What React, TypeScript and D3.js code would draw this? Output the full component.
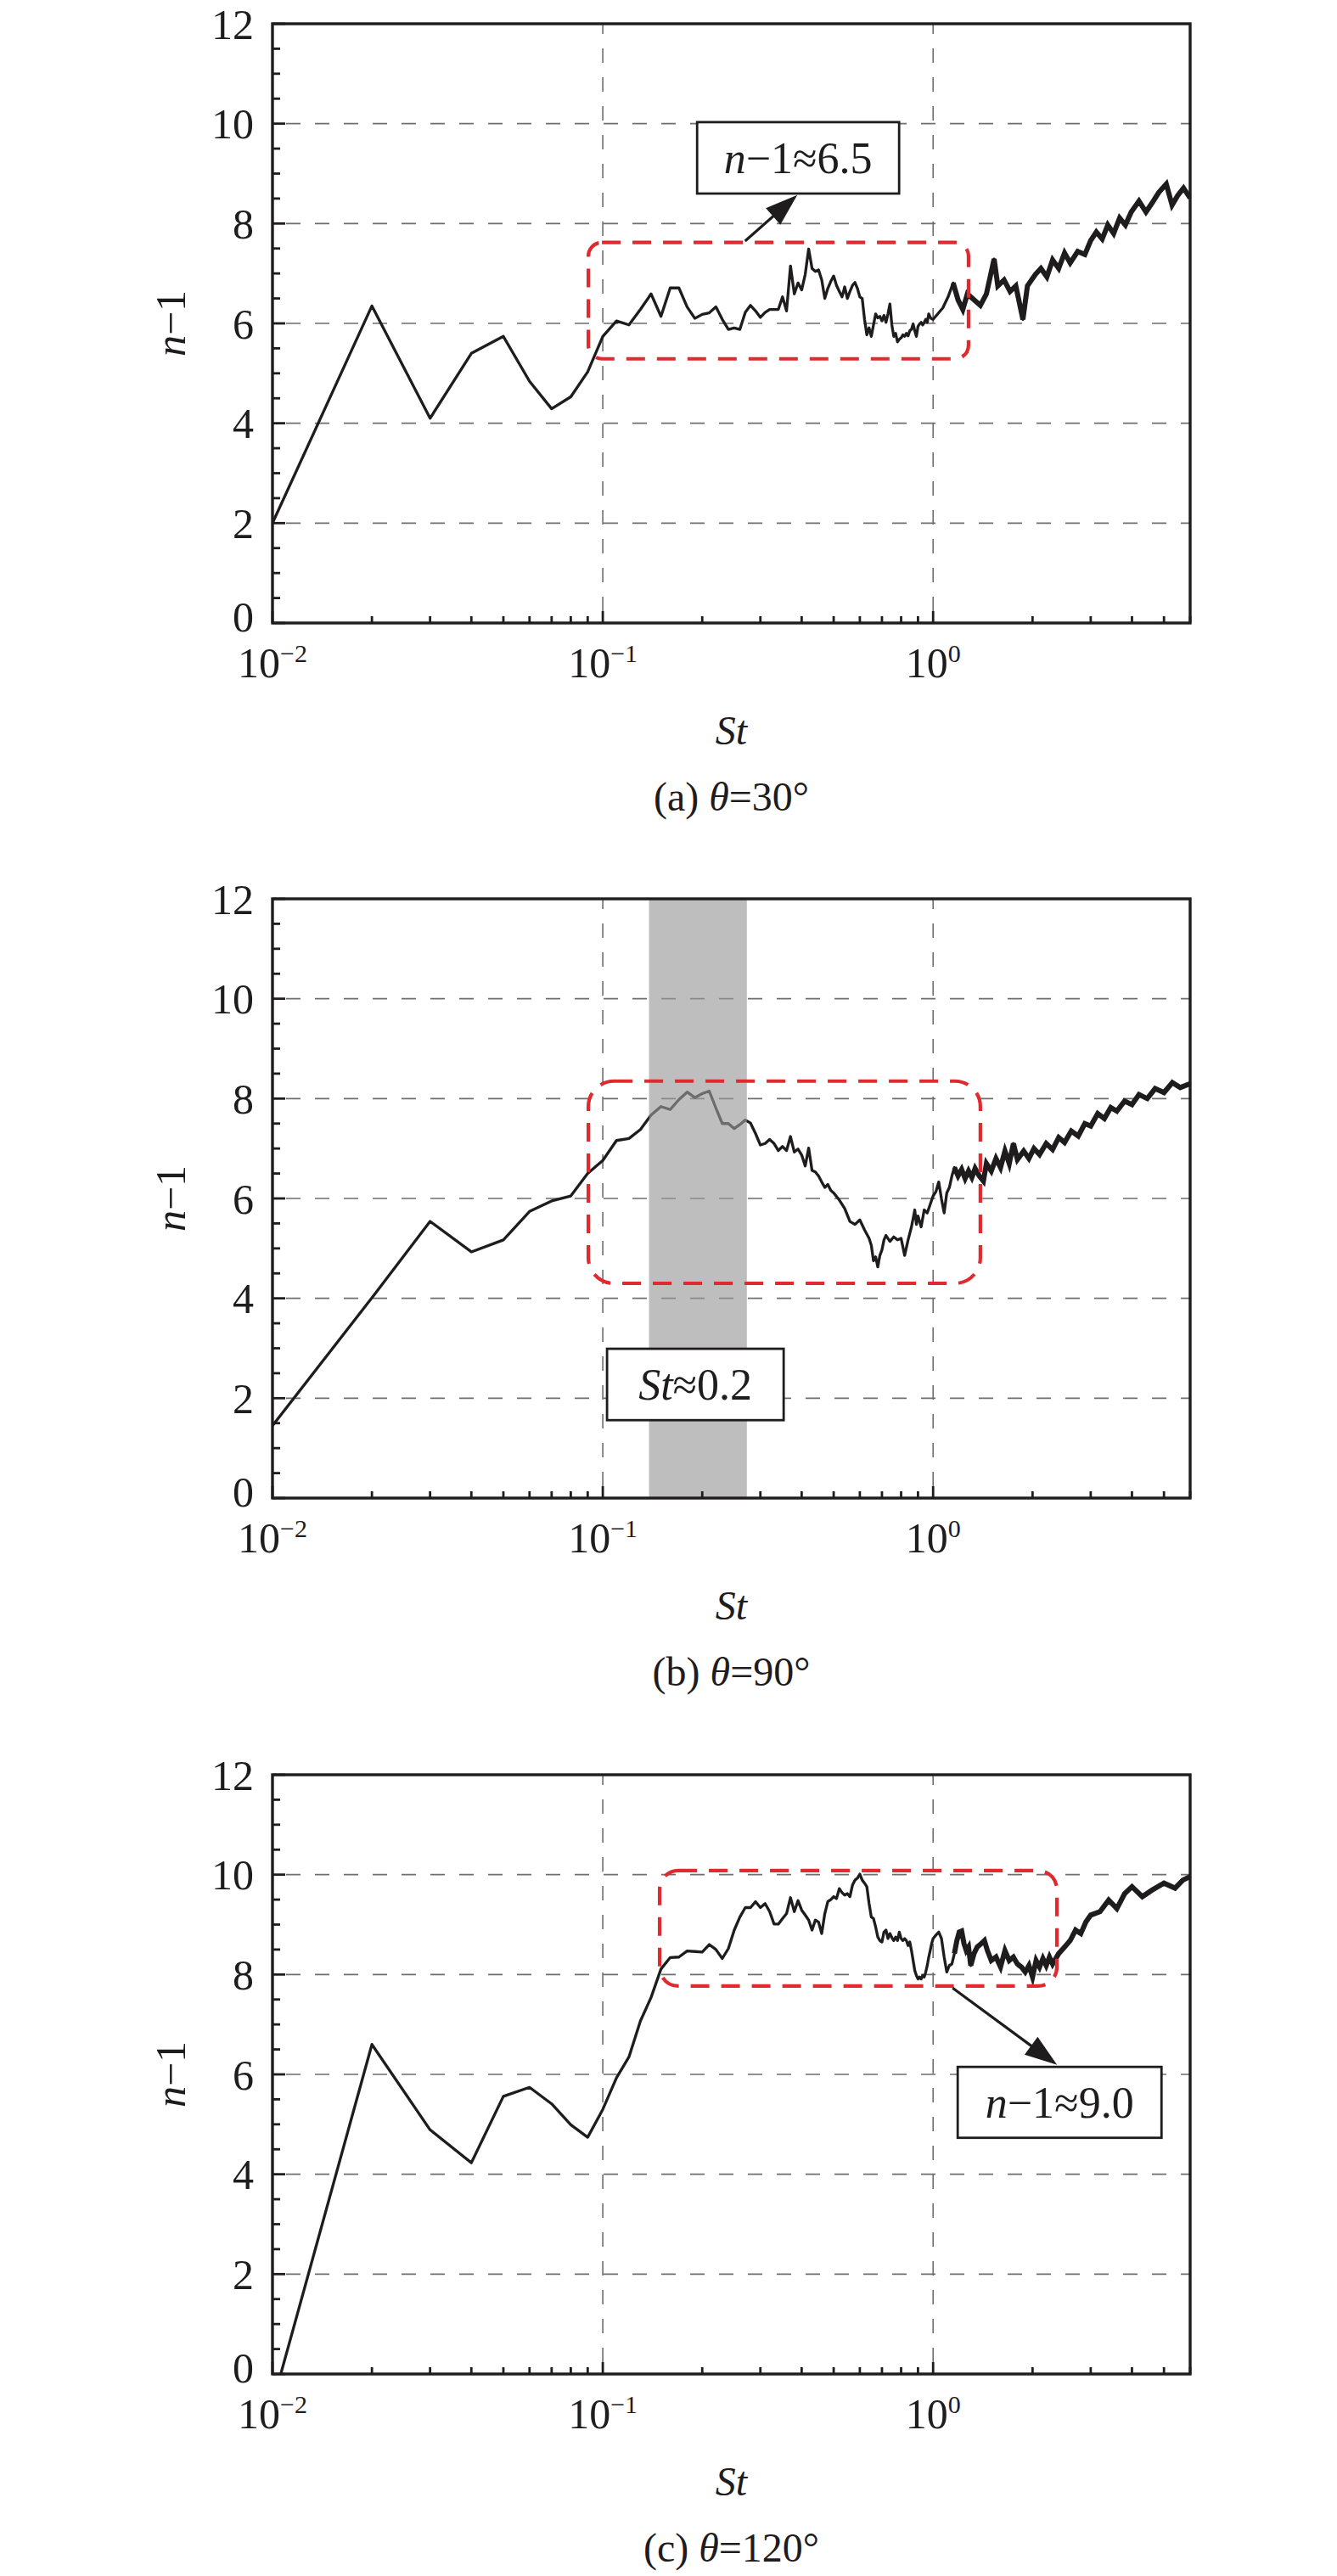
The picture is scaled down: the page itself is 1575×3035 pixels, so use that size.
import * as d3 from "d3";

// ---- data ----
// common St grid for the low range (0.01 .. 1.00)
const ST_GRID = [
  0.01, 0.02, 0.03, 0.04, 0.05, 0.06, 0.07, 0.08, 0.09, 0.1,
  0.11, 0.12, 0.13, 0.14, 0.15, 0.16, 0.17, 0.18, 0.19, 0.2,
  0.21, 0.22, 0.23, 0.24, 0.25, 0.26, 0.27, 0.28, 0.29, 0.3,
  0.31, 0.32, 0.33, 0.34, 0.35, 0.36, 0.37, 0.38, 0.39, 0.4,
  0.41, 0.42, 0.43, 0.44, 0.45, 0.46, 0.47, 0.48, 0.49, 0.5,
  0.51, 0.52, 0.53, 0.54, 0.55, 0.56, 0.57, 0.58, 0.59, 0.6,
  0.61, 0.62, 0.63, 0.64, 0.65, 0.66, 0.67, 0.68, 0.69, 0.7,
  0.71, 0.72, 0.73, 0.74, 0.75, 0.76, 0.77, 0.78, 0.79, 0.8,
  0.81, 0.82, 0.83, 0.84, 0.85, 0.86, 0.87, 0.88, 0.89, 0.9,
  0.91, 0.92, 0.93, 0.94, 0.95, 0.96, 0.97, 0.98, 0.99, 1.0,
];

// (a) theta = 30
const ST_TAIL_A = [
  1.07, 1.11, 1.15, 1.19, 1.23, 1.27, 1.33, 1.39, 1.45, 1.53,
  1.57, 1.64, 1.71, 1.78, 1.87, 1.93, 2.04, 2.12, 2.21, 2.3,
  2.4, 2.5, 2.6, 2.74, 2.88, 3.0, 3.12, 3.25, 3.38, 3.52,
  3.67, 3.82, 3.98, 4.2, 4.41, 4.59, 4.82, 5.08, 5.29, 5.5,
  5.73, 6.0,
];
const N_A = [
  2.0, 6.35, 4.1, 5.4, 5.74, 4.84, 4.29, 4.53, 5.03, 5.74,
  6.05, 5.97, 6.28, 6.59, 6.14, 6.71, 6.71, 6.33, 6.1, 6.18,
  6.21, 6.33, 6.08, 5.88, 5.91, 5.88, 6.22, 6.36, 6.25, 6.12,
  6.22, 6.28, 6.28, 6.28, 6.53, 6.25, 7.15, 6.59, 6.81, 6.67,
  6.98, 7.49, 7.1, 7.04, 7.07, 6.87, 6.5, 6.7, 6.84, 6.95,
  6.76, 6.64, 6.53, 6.73, 6.5, 6.64, 6.76, 6.82, 6.7, 6.53,
  6.5, 6.08, 5.77, 5.91, 5.74, 5.97, 6.19, 6.11, 6.14, 6.05,
  6.16, 6.02, 6.19, 6.39, 5.97, 5.74, 5.8, 5.63, 5.68, 5.71,
  5.77, 5.74, 5.8, 5.75, 5.85, 5.88, 5.99, 5.85, 5.74, 5.94,
  5.99, 6.02, 5.97, 6.02, 6.08, 6.02, 6.19, 6.12, 6.09, 6.08,
  // tail
  6.31, 6.53, 6.81, 6.47, 6.28, 6.59, 6.47, 6.36, 6.59, 7.29,
  6.75, 6.87, 6.64, 6.75, 6.08, 6.75, 6.98, 7.1, 6.93, 7.27,
  7.1, 7.41, 7.21, 7.44, 7.38, 7.66, 7.83, 7.69, 7.97, 7.8,
  8.11, 7.97, 8.23, 8.45, 8.23, 8.4, 8.62, 8.79, 8.37, 8.56,
  8.71, 8.51,
];

// (b) theta = 90 (uses ST_GRID up to 0.50)
const ST_TAIL_B = [
  0.52, 0.54, 0.56, 0.58, 0.6, 0.62, 0.64, 0.65, 0.66, 0.67,
  0.68, 0.69, 0.7, 0.71, 0.72, 0.74, 0.76, 0.78, 0.8, 0.81,
  0.82, 0.84, 0.86, 0.88, 0.89, 0.9, 0.92, 0.94, 0.96, 0.98,
  1.0, 1.02, 1.04, 1.06, 1.08, 1.1, 1.12, 1.14, 1.16, 1.19,
  1.22, 1.25, 1.28, 1.31, 1.34, 1.38, 1.42, 1.45, 1.5, 1.55,
  1.6, 1.65, 1.7, 1.75, 1.8, 1.88, 1.95, 2.02, 2.1, 2.2,
  2.3, 2.4, 2.5, 2.62, 2.75, 2.88, 3.0, 3.15, 3.3, 3.45,
  3.6, 3.8, 4.0, 4.2, 4.45, 4.7, 5.0, 5.3, 5.6, 6.0,
];
const N_B = [
  1.45, 4.01, 5.54, 4.93, 5.17, 5.74, 5.95, 6.05, 6.5, 6.76,
  7.16, 7.2, 7.38, 7.67, 7.84, 7.78, 7.98, 8.13, 8.02, 8.1,
  8.15, 7.81, 7.5, 7.5, 7.4, 7.48, 7.57, 7.51, 7.3, 7.07,
  7.1, 7.18, 7.1, 6.96, 7.04, 6.96, 7.24, 6.93, 6.99, 6.87,
  6.65, 7.01, 6.56, 6.53, 6.45, 6.33, 6.22, 6.28, 6.16, 6.11,
  // tail
  5.97, 5.8, 5.54, 5.48, 5.57, 5.37, 5.2, 5.06, 4.75, 4.83,
  4.63, 4.86, 4.97, 5.17, 5.26, 5.14, 5.23, 5.17, 5.2, 5.03,
  4.86, 5.17, 5.43, 5.77, 5.48, 5.65, 5.43, 5.77, 5.71, 5.88,
  6.05, 6.14, 6.33, 5.99, 5.71, 6.11, 6.22, 6.45, 6.62, 6.45,
  6.58, 6.4, 6.55, 6.42, 6.6, 6.45, 6.35, 6.7, 6.55, 6.8,
  6.62, 6.95, 6.7, 7.1, 6.78, 6.95, 6.8, 7.0, 6.88, 7.1,
  6.98, 7.22, 7.12, 7.35, 7.25, 7.5, 7.45, 7.7, 7.6, 7.82,
  7.75, 7.95, 7.88, 8.08, 8.0, 8.2, 8.12, 8.32, 8.22, 8.3,
];

// (c) theta = 120
const ST_TAIL_C = [
  1.02, 1.04, 1.06, 1.08, 1.1, 1.12, 1.14, 1.16, 1.18, 1.2,
  1.22, 1.24, 1.26, 1.28, 1.3, 1.33, 1.36, 1.4, 1.43, 1.46,
  1.5, 1.55, 1.6, 1.65, 1.7, 1.75, 1.8, 1.85, 1.9, 1.95,
  2.0, 2.05, 2.1, 2.15, 2.2, 2.25, 2.3, 2.4, 2.5, 2.6,
  2.7, 2.8, 2.9, 3.0, 3.2, 3.4, 3.6, 3.8, 4.0, 4.3,
  4.6, 5.0, 5.4, 5.7, 6.0,
];
const N_C = [
  -0.6, 6.6, 4.89, 4.23, 5.56, 5.74, 5.41, 4.99, 4.74, 5.3,
  5.93, 6.35, 7.07, 7.54, 8.11, 8.34, 8.35, 8.47, 8.46, 8.45,
  8.6, 8.5, 8.32, 8.52, 8.89, 9.15, 9.34, 9.34, 9.46, 9.34,
  9.42, 9.26, 9.01, 9.01, 9.12, 9.22, 9.54, 9.26, 9.48, 9.29,
  9.19, 9.09, 8.89, 9.09, 9.05, 8.82, 9.22, 9.46, 9.5, 9.56,
  9.52, 9.72, 9.64, 9.59, 9.62, 9.56, 9.79, 9.89, 9.93, 10.01,
  9.89, 9.83, 9.76, 9.42, 9.15, 9.12, 8.95, 8.75, 8.68, 8.65,
  8.85, 8.89, 8.72, 8.82, 8.74, 8.68, 8.75, 8.68, 8.85, 8.72,
  8.68, 8.72, 8.68, 8.58, 8.65, 8.48, 8.28, 8.08, 7.98, 7.91,
  7.95, 7.91, 7.98, 7.95, 8.05, 8.18, 8.35, 8.48, 8.62, 8.72,
  // tail
  8.79, 8.85, 8.72, 8.35, 8.05, 8.18, 8.21, 8.42, 8.68, 8.85,
  8.87, 8.62, 8.48, 8.55, 8.18, 8.42, 8.55, 8.62, 8.68, 8.48,
  8.28, 8.35, 8.15, 8.48, 8.28, 8.35, 8.21, 8.15, 8.05, 8.18,
  7.95, 8.28, 8.15, 8.32, 8.18, 8.35, 8.21, 8.42, 8.55, 8.68,
  8.89, 8.82, 9.05, 9.19, 9.26, 9.49, 9.32, 9.62, 9.76, 9.56,
  9.69, 9.83, 9.73, 9.89, 9.96,
];

const Y_TICKS = [0, 2, 4, 6, 8, 10, 12];
const X_DECADES = [0.01, 0.1, 1];
const X_EXPONENTS = ["\u22122", "\u22121", "0"];
const CAPTION_LETTERS = ["(a)", "(b)", "(c)"];
const CAPTION_ANGLES = ["30", "90", "120"];

// ---- layout ----
const W = 1575;
const H = 3035;
const LEFT = 321;
const RIGHT = 1402;
const PANEL_H = 706;
const PANEL_TOPS = [28, 1059, 2091];
const FONT = "'Liberation Serif', 'Times New Roman', Times, serif";
const INK = "#1f1c1d";
const GRID = "#6e6e6e";
const RED = "#df2a30";

type Note = { st0: number; st1: number; n0: number; n1: number; parts: [string, string] };
type Arrow = { from: [number, number]; to: [number, number] };

const PANELS = [
  {
    st: ST_GRID.concat(ST_TAIL_A),
    n: N_A,
    redBox: { st0: 0.0904, st1: 1.28, n0: 5.29, n1: 7.62, r: 16 },
    band: null as null | [number, number],
    note: { st0: 0.193, st1: 0.789, n0: 8.6, n1: 10.03, parts: ["n", "\u22121\u22486.5"] } as Note,
    arrow: { from: [0.2696, 7.65], to: [0.388, 8.57] } as Arrow | null,
  },
  {
    st: ST_GRID.slice(0, 50).concat(ST_TAIL_B),
    n: N_B,
    redBox: { st0: 0.0904, st1: 1.39, n0: 4.3, n1: 8.35, r: 30 },
    band: [0.138, 0.273] as null | [number, number],
    note: { st0: 0.103, st1: 0.3528, n0: 1.56, n1: 2.99, parts: ["St", "\u22480.2"] } as Note,
    arrow: null as Arrow | null,
  },
  {
    st: ST_GRID.concat(ST_TAIL_C),
    n: N_C,
    redBox: { st0: 0.1486, st1: 2.37, n0: 7.77, n1: 10.08, r: 22 },
    band: null as null | [number, number],
    note: { st0: 1.187, st1: 4.914, n0: 4.73, n1: 6.15, parts: ["n", "\u22121\u22489.0"] } as Note,
    arrow: { from: [1.146, 7.73], to: [2.373, 6.19] } as Arrow | null,
  },
];

const x = d3.scaleLog().domain([0.01, 6]).range([LEFT, RIGHT]);

const xMinor: number[] = [];
X_DECADES.forEach((dec) => {
  for (let k = 2; k <= 9; k++) {
    const v = dec * k;
    if (v <= 6) xMinor.push(v);
  }
});
const yMinor = d3.range(0, 12.001, 0.5);

function ArrowMark({ from, to }: { from: [number, number]; to: [number, number] }) {
  const [x1, y1] = from;
  const [x2, y2] = to;
  const dx = x2 - x1;
  const dy = y2 - y1;
  const len = Math.hypot(dx, dy);
  const ux = dx / len;
  const uy = dy / len;
  const headL = 38;
  const headW = 13;
  const bx = x2 - ux * headL;
  const by = y2 - uy * headL;
  const pts = [
    [x2, y2],
    [bx - uy * headW, by + ux * headW],
    [bx + uy * headW, by - ux * headW],
  ]
    .map((p) => p.join(","))
    .join(" ");
  return (
    <g>
      <line x1={x1} y1={y1} x2={bx + ux * 4} y2={by + uy * 4} stroke={INK} strokeWidth={3.2} />
      <polygon points={pts} fill={INK} />
    </g>
  );
}

function Panel({ idx }: { idx: number }) {
  const p = PANELS[idx];
  const top = PANEL_TOPS[idx];
  const bottom = top + PANEL_H;
  const y = d3.scaleLinear().domain([0, 12]).range([bottom, top]);
  const pts: [number, number][] = p.st
    .map((s, i) => [s, p.n[i]] as [number, number])
    .filter((d) => d[1] !== undefined);
  const line = d3
    .line<[number, number]>()
    .x((d) => x(d[0]))
    .y((d) => y(d[1]));
  // the densely sampled, noisy high-St part reads as a thick band
  const dense = pts.filter((d) => d[0] >= 1.15);
  const clipId = `clip-${idx}`;
  const midX = (LEFT + RIGHT) / 2;
  const rb = p.redBox;
  const note = p.note;

  return (
    <g>
      <defs>
        <clipPath id={clipId}>
          <rect x={LEFT} y={top} width={RIGHT - LEFT} height={PANEL_H} />
        </clipPath>
      </defs>

      {/* grid */}
      <g stroke={GRID} strokeWidth={1.6} strokeDasharray="17,17">
        {Y_TICKS.filter((t) => t > 0 && t < 12).map((t) => (
          <line key={`gy${t}`} x1={LEFT + 16} x2={RIGHT} y1={y(t)} y2={y(t)} />
        ))}
        {X_DECADES.slice(1).map((d) => (
          <line key={`gx${d}`} x1={x(d)} x2={x(d)} y1={bottom - 14} y2={top} />
        ))}
      </g>

      {/* curve */}
      <g clipPath={`url(#${clipId})`}>
        <path d={line(pts) ?? ""} fill="none" stroke={INK} strokeWidth={3.3} strokeLinejoin="round" />
        <path d={line(dense) ?? ""} fill="none" stroke={INK} strokeWidth={6} strokeLinejoin="miter" />
      </g>

      {/* shaded band */}
      {p.band && (
        <rect
          x={x(p.band[0])}
          y={top}
          width={x(p.band[1]) - x(p.band[0])}
          height={PANEL_H}
          fill="#9a9a9a"
          fillOpacity={0.64}
        />
      )}

      {/* red dashed region */}
      <rect
        x={x(rb.st0)}
        y={y(rb.n1)}
        width={x(rb.st1) - x(rb.st0)}
        height={y(rb.n0) - y(rb.n1)}
        rx={rb.r}
        ry={rb.r}
        fill="none"
        stroke={RED}
        strokeWidth={4.2}
        strokeDasharray="22,14"
      />

      {/* annotation */}
      {p.arrow && (
        <ArrowMark
          from={[x(p.arrow.from[0]), y(p.arrow.from[1])]}
          to={[x(p.arrow.to[0]), y(p.arrow.to[1])]}
        />
      )}
      <rect
        x={x(note.st0)}
        y={y(note.n1)}
        width={x(note.st1) - x(note.st0)}
        height={y(note.n0) - y(note.n1)}
        fill="#fff"
        stroke={INK}
        strokeWidth={2.8}
      />
      <text
        x={(x(note.st0) + x(note.st1)) / 2}
        y={(y(note.n0) + y(note.n1)) / 2}
        dy="0.35em"
        textAnchor="middle"
        fontSize={52}
        fontFamily={FONT}
        fill={INK}
      >
        <tspan fontStyle="italic">{note.parts[0]}</tspan>
        <tspan>{note.parts[1]}</tspan>
      </text>

      {/* axes ticks */}
      <g stroke={INK} strokeWidth={2.8}>
        {yMinor.map((t) => (
          <line key={`ty${t}`} x1={LEFT} x2={LEFT + (t % 2 === 0 ? 15 : 9)} y1={y(t)} y2={y(t)} />
        ))}
        {xMinor.map((v) => (
          <line key={`tx${v}`} x1={x(v)} x2={x(v)} y1={bottom} y2={bottom - 8} />
        ))}
        {X_DECADES.map((d) => (
          <line key={`txm${d}`} x1={x(d)} x2={x(d)} y1={bottom} y2={bottom - 14} />
        ))}
      </g>

      {/* frame */}
      <rect x={LEFT} y={top} width={RIGHT - LEFT} height={PANEL_H} fill="none" stroke={INK} strokeWidth={3.4} />

      {/* tick labels */}
      <g fontFamily={FONT} fill={INK}>
        {Y_TICKS.map((t) => (
          <text
            key={`ly${t}`}
            x={LEFT - 22}
            y={y(t)}
            dy={t === 0 ? "0.2em" : "0.35em"}
            textAnchor="end"
            fontSize={50}
          >
            {t}
          </text>
        ))}
        {X_DECADES.map((d, i) => (
          <text key={`lx${d}`} x={x(d)} y={bottom + 64} textAnchor="middle" fontSize={50}>
            <tspan>10</tspan>
            <tspan dy={-18} fontSize={30}>
              {X_EXPONENTS[i]}
            </tspan>
          </text>
        ))}
      </g>

      {/* axis titles */}
      <text
        transform={`translate(218,${(top + bottom) / 2}) rotate(-90)`}
        textAnchor="middle"
        fontFamily={FONT}
        fontSize={50}
        fill={INK}
      >
        <tspan fontStyle="italic">n</tspan>
        <tspan>{"\u22121"}</tspan>
      </text>
      <text x={midX} y={bottom + 143} textAnchor="middle" fontFamily={FONT} fontSize={48} fontStyle="italic" fill={INK}>
        St
      </text>
      <text x={midX} y={bottom + 221} textAnchor="middle" fontFamily={FONT} fontSize={48} fill={INK}>
        <tspan>{CAPTION_LETTERS[idx] + " "}</tspan>
        <tspan fontStyle="italic">{"\u03b8"}</tspan>
        <tspan>{"=" + CAPTION_ANGLES[idx] + "\u00b0"}</tspan>
      </text>
    </g>
  );
}

export default function App() {
  return (
    <svg
      width={W}
      height={H}
      viewBox={`0 0 ${W} ${H}`}
      style={{ position: "absolute", left: 0, top: 0, background: "#fff" }}
    >
      <rect width={W} height={H} fill="#fff" />
      {PANELS.map((_, i) => (
        <Panel key={i} idx={i} />
      ))}
    </svg>
  );
}
